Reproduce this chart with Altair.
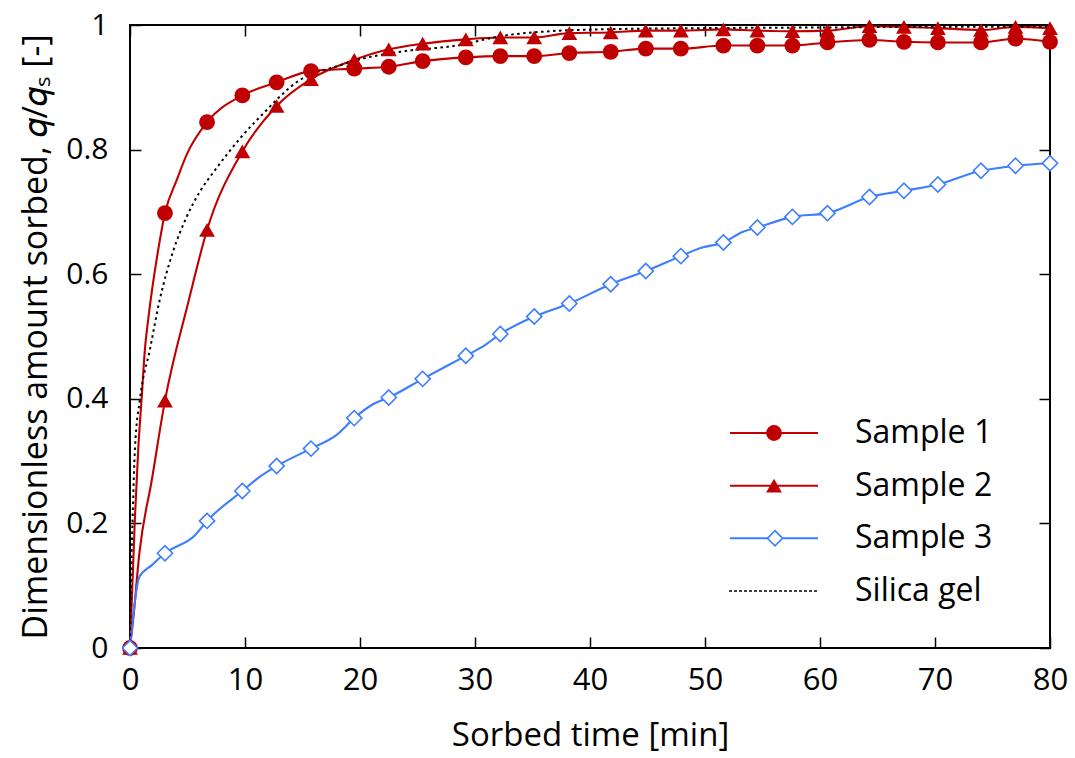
import altair as alt
import pandas as pd

# ---------------- data ----------------
series_names = ["Sample 1", "Sample 2", "Sample 3", "Silica gel"]
series_colors = ["#C00000", "#C00000", "#3D7EFF", "#000000"]

# times at which markers are drawn (same for the three samples)
t_markers = [0, 3.04, 6.7, 9.77, 12.75, 15.74, 19.5, 22.5, 25.45, 29.2, 32.2, 35.15,
             38.2, 41.8, 44.85, 47.9, 51.6, 54.55, 57.6, 60.65, 64.3, 67.3, 70.25,
             74.0, 77.0, 80.0]
q_sample1 = [0, 0.698, 0.844, 0.887, 0.908, 0.926, 0.930, 0.933, 0.942, 0.948, 0.950,
             0.950, 0.955, 0.957, 0.962, 0.962, 0.967, 0.967, 0.967, 0.972, 0.976,
             0.973, 0.972, 0.972, 0.978, 0.973]
q_sample2 = [0, 0.397, 0.671, 0.797, 0.870, 0.913, 0.944, 0.961, 0.970, 0.977, 0.980,
             0.980, 0.987, 0.988, 0.991, 0.991, 0.993, 0.991, 0.990, 0.991, 0.998,
             0.997, 0.995, 0.992, 0.997, 0.995]
q_sample3 = [0, 0.152, 0.204, 0.252, 0.292, 0.320, 0.369, 0.402, 0.432, 0.469, 0.504,
             0.532, 0.553, 0.584, 0.605, 0.629, 0.651, 0.675, 0.692, 0.698, 0.724,
             0.734, 0.744, 0.766, 0.774, 0.778]

# extra (unmarked) points of the measured curves
t_extra1 = [0.43, 0.72, 1.01, 1.3, 1.6, 2.46, 4.06, 4.98]
q_extra1 = [0.21, 0.32, 0.40, 0.48, 0.53, 0.64, 0.751, 0.794]
t_extra2 = [0.3, 0.8, 1.9, 5.07]
q_extra2 = [0.05, 0.15, 0.27, 0.555]
t_extra3 = [0.81, 1.9, 5.65, 11.3, 17.97, 21.2, 30.7, 49.6, 53.3]
q_extra3 = [0.114, 0.133, 0.181, 0.275, 0.342, 0.392, 0.484, 0.642, 0.668]

# silica gel reference curve
t_silica = [0, 0.1, 0.23, 0.43, 0.87, 1.74, 2.6, 3.77, 4.93, 6.09, 7.39, 9.57, 11.9,
            12.75, 14.8, 15.9, 17.7, 20, 23.5, 28.7, 32.2, 36.5, 41, 50, 60, 70, 80]
q_silica = [0, 0.12, 0.21, 0.32, 0.40, 0.48, 0.56, 0.638, 0.692, 0.733, 0.767, 0.818,
            0.864, 0.88, 0.912, 0.922, 0.932, 0.945, 0.957, 0.968, 0.982, 0.990,
            0.993, 0.995, 0.996, 0.997, 0.997]

x_ticks = [0, 10, 20, 30, 40, 50, 60, 70, 80]
y_ticks = [0, 0.2, 0.4, 0.6, 0.8, 1.0]

# ---------------- tables ----------------
rows_m = []
for name, qs in zip(series_names[:3], [q_sample1, q_sample2, q_sample3]):
    for t, q in zip(t_markers, qs):
        rows_m.append({"series": name, "t": t, "q": q})
markers = pd.DataFrame(rows_m)

rows_l = list(rows_m)
for name, ts, qs in zip(series_names[:3], [t_extra1, t_extra2, t_extra3],
                        [q_extra1, q_extra2, q_extra3]):
    for t, q in zip(ts, qs):
        rows_l.append({"series": name, "t": t, "q": q})
lines = pd.DataFrame(rows_l).sort_values(["series", "t"]).reset_index(drop=True)
lines["order"] = lines.groupby("series").cumcount()

silica = pd.DataFrame({"series": "Silica gel", "t": t_silica, "q": q_silica})
legend_df = pd.DataFrame({"series": series_names})

FONT = "Open Sans"
W, H = 920, 623
TICK = 11
SIZE_FILLED = 250
SIZE_OPEN = 230

xscale = alt.Scale(domain=[0, 80], nice=False, zero=False)
yscale = alt.Scale(domain=[0, 1], nice=False, zero=False)
color_scale = alt.Scale(domain=series_names, range=series_colors)
shape_scale = alt.Scale(domain=series_names[:3], range=["circle", "triangle-up", "diamond"])

x_axis = alt.Axis(values=x_ticks, title="Sorbed time [min]", domain=False, grid=False,
                  offset=-TICK, tickSize=TICK, tickWidth=1.5, tickColor="black",
                  labelFlush=False, labelPadding=17, labelFontSize=31, labelFont=FONT,
                  labelColor="black", titleFontSize=33, titleFont=FONT,
                  titleFontWeight="normal", titleColor="black", titlePadding=24)
y_axis = alt.Axis(values=y_ticks, format="~g",
                  title="Dimensionless amount sorbed, \U0001D45E/\U0001D45E\u209B [-]",
                  domain=False, grid=False, offset=-TICK, tickSize=TICK, tickWidth=1.5,
                  tickColor="black", labelFlush=False, labelPadding=22, labelFontSize=30,
                  labelFont=FONT, labelColor="black", titleFontSize=34, titleFont=FONT,
                  titleFontWeight="normal", titleColor="black", titlePadding=12)
x_top = alt.Axis(values=x_ticks, orient="top", labels=False, title=None, domain=False,
                 grid=False, offset=-TICK, tickSize=TICK, tickWidth=1.5, tickColor="black")
y_right = alt.Axis(values=y_ticks, orient="right", labels=False, title=None, domain=False,
                   grid=False, offset=-TICK, tickSize=TICK, tickWidth=1.5, tickColor="black")

# main lines
line_layer = alt.Chart(lines).mark_line(interpolate="monotone", strokeWidth=2.1).encode(
    x=alt.X("t:Q", scale=xscale, axis=x_axis),
    y=alt.Y("q:Q", scale=yscale, axis=y_axis),
    color=alt.Color("series:N", scale=color_scale, legend=None),
    detail="series:N",
    order="order:Q",
)

silica_layer = alt.Chart(silica).mark_line(
    interpolate="monotone", strokeWidth=2, strokeDash=[2.5, 3.5], color="black"
).encode(
    x=alt.X("t:Q", scale=xscale, axis=None),
    y=alt.Y("q:Q", scale=yscale, axis=None),
)

filled_markers = alt.Chart(markers).transform_filter(
    alt.FieldOneOfPredicate(field="series", oneOf=["Sample 1", "Sample 2"])
).mark_point(filled=True, size=SIZE_FILLED, opacity=1).encode(
    x=alt.X("t:Q", scale=xscale, axis=None),
    y=alt.Y("q:Q", scale=yscale, axis=None),
    color=alt.Color("series:N", scale=color_scale, legend=None),
    shape=alt.Shape("series:N", scale=shape_scale, legend=None),
)

open_markers = alt.Chart(markers).transform_filter(
    alt.FieldEqualPredicate(field="series", equal="Sample 3")
).mark_point(shape="diamond", size=SIZE_OPEN, fill="white", fillOpacity=1, opacity=1,
             stroke="#3D7EFF", strokeWidth=1.6).encode(
    x=alt.X("t:Q", scale=xscale, axis=None),
    y=alt.Y("q:Q", scale=yscale, axis=None),
)

# mirrored ticks on top and right
mirror = alt.Chart(markers).mark_point(opacity=0).encode(
    x=alt.X("t:Q", scale=xscale, axis=x_top),
    y=alt.Y("q:Q", scale=yscale, axis=y_right),
)

# legend (drawn by hand to show line + marker)
leg_y = alt.Y("series:N",
              scale=alt.Scale(type="point", domain=series_names, range=[408, 566], padding=0),
              axis=None)
leg_color = alt.Color("series:N", scale=color_scale, legend=None)

leg_lines = alt.Chart(legend_df).transform_filter(
    alt.FieldOneOfPredicate(field="series", oneOf=series_names[:3])
).mark_rule(strokeWidth=2).encode(
    x=alt.value(600), x2=alt.value(688), y=leg_y, color=leg_color)

leg_dash = alt.Chart(legend_df).transform_filter(
    alt.FieldEqualPredicate(field="series", equal="Silica gel")
).mark_rule(strokeWidth=1.3, strokeDash=[3, 2], color="black").encode(
    x=alt.value(599), x2=alt.value(688), y=leg_y)

leg_filled = alt.Chart(legend_df).transform_filter(
    alt.FieldOneOfPredicate(field="series", oneOf=["Sample 1", "Sample 2"])
).mark_point(filled=True, size=SIZE_FILLED, opacity=1).encode(
    x=alt.value(644), y=leg_y, color=leg_color,
    shape=alt.Shape("series:N", scale=shape_scale, legend=None))

leg_open = alt.Chart(legend_df).transform_filter(
    alt.FieldEqualPredicate(field="series", equal="Sample 3")
).mark_point(shape="diamond", size=SIZE_OPEN, fill="white", fillOpacity=1, opacity=1,
             stroke="#3D7EFF", strokeWidth=1.6).encode(x=alt.value(645), y=leg_y)

leg_text = alt.Chart(legend_df).mark_text(
    align="left", baseline="middle", fontSize=32, font=FONT, color="black"
).encode(x=alt.value(725), y=leg_y, text="series:N")

chart = alt.layer(
    line_layer, silica_layer, filled_markers, open_markers, mirror,
    leg_lines, leg_dash, leg_filled, leg_open, leg_text,
).resolve_scale(
    x="independent", y="independent"
).properties(
    width=W, height=H,
    autosize="none",
    padding={"left": 130, "top": 25, "right": 25, "bottom": 110},
    background="white",
).configure_view(
    stroke="black", strokeWidth=2
)

chart.save("out.html", embed_options={"renderer": "svg", "actions": False})
